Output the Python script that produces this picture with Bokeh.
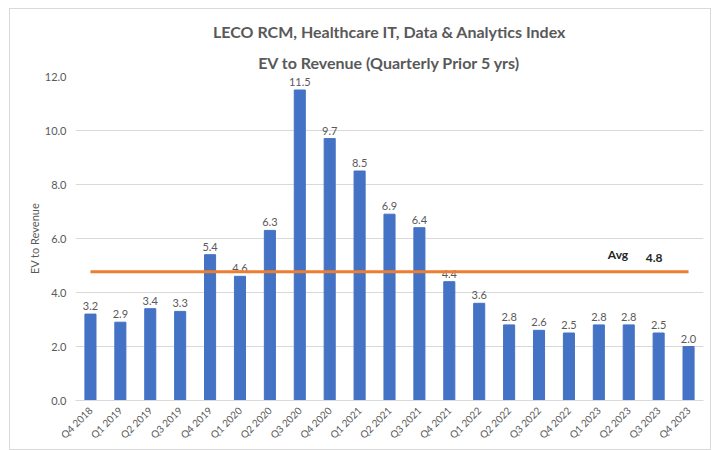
import math
from bokeh.plotting import figure
from bokeh.models import Title, FactorRange, Range1d, CustomJSTickFormatter, InlineStyleSheet
from bokeh.core.properties import value
from bokeh.embed import file_html
from bokeh.resources import INLINE

quarters = ["Q4 2018", "Q1 2019", "Q2 2019", "Q3 2019", "Q4 2019", "Q1 2020", "Q2 2020",
            "Q3 2020", "Q4 2020", "Q1 2021", "Q2 2021", "Q3 2021", "Q4 2021", "Q1 2022",
            "Q2 2022", "Q3 2022", "Q4 2022", "Q1 2023", "Q2 2023", "Q3 2023", "Q4 2023"]
ev_revenue = [3.2, 2.9, 3.4, 3.3, 5.4, 4.6, 6.3, 11.5, 9.7, 8.5, 6.9, 6.4, 4.4, 3.6,
              2.8, 2.6, 2.5, 2.8, 2.8, 2.5, 2.0]
avg_value = 4.77
avg_label = "4.8"
y_ticks = [0, 2, 4, 6, 8, 10, 12]
title_lines = ["LECO RCM, Healthcare IT, Data & Analytics Index",
               "EV to Revenue (Quarterly Prior 5 yrs)"]

FONT = "Lato"
GRAY = "#595959"

p = figure(x_range=FactorRange(*quarters, range_padding=0), y_range=Range1d(0, 12),
           width=700, height=440, output_backend="svg", toolbar_location=None,
           min_border_left=65, min_border_right=7, min_border_top=67, min_border_bottom=49)
p.margin = (9, 0, 0, 10)
p.stylesheets = [InlineStyleSheet(css=":host { outline: 1px solid #d9d9d9; }")]
p.outline_line_color = None
p.background_fill_color = "white"
p.border_fill_color = "white"

p.add_layout(Title(text=title_lines[1], align="center", offset=-27,
                   text_font=FONT, text_font_size="16px", text_font_style="bold",
                   text_color=GRAY), "above")
p.add_layout(Title(text=title_lines[0], align="center", offset=-27,
                   text_font=FONT, text_font_size="16px", text_font_style="bold",
                   text_color=GRAY, text_line_height=0.55), "above")

p.vbar(x=quarters, top=ev_revenue, width=0.37, fill_color="#4472C4", line_color="#4472C4")
p.text(x=quarters, y=ev_revenue, text=[f"{v:.1f}" for v in ev_revenue],
       text_align="center", text_baseline="bottom", y_offset=-4,
       text_font=value(FONT), text_font_size="11px", text_color=GRAY)

p.line(x=quarters, y=[avg_value] * len(quarters), line_color="#ED7D31", line_width=3)
p.text(x=[quarters[17]], y=[avg_value], text=["Avg"], x_offset=9, y_offset=-10,
       text_align="left", text_baseline="bottom", text_font=value(FONT),
       text_font_size="12px", text_font_style="bold", text_color="#262626")
p.text(x=[quarters[18]], y=[avg_value], text=[avg_label], x_offset=17, y_offset=-10,
       text_align="left", text_baseline="bottom", text_font=value(FONT),
       text_font_size="12px", text_font_style="bold", text_color="#262626")

p.ygrid.grid_line_color = "#d9d9d9"
p.xgrid.grid_line_color = None

p.yaxis.ticker = y_ticks
p.yaxis.formatter = CustomJSTickFormatter(code="return tick.toFixed(1);")
p.yaxis.axis_line_color = None
p.yaxis.major_tick_line_color = None
p.yaxis.minor_tick_line_color = None
p.yaxis.major_tick_out = 0
p.yaxis.major_tick_in = 0
p.yaxis.major_label_standoff = 9
p.yaxis.major_label_text_font = FONT
p.yaxis.major_label_text_font_size = "11px"
p.yaxis.major_label_text_color = GRAY
p.yaxis.axis_label = "EV to Revenue"
p.yaxis.axis_label_text_font = FONT
p.yaxis.axis_label_text_font_size = "11px"
p.yaxis.axis_label_text_font_style = "normal"
p.yaxis.axis_label_text_color = GRAY
p.yaxis.axis_label_standoff = 1

p.xaxis.axis_line_color = "#d9d9d9"
p.xaxis.major_tick_line_color = None
p.xaxis.minor_tick_line_color = None
p.xaxis.major_tick_out = 0
p.xaxis.major_tick_in = 0
p.xaxis.major_label_orientation = math.pi / 4
p.xaxis.major_label_text_font = FONT
p.xaxis.major_label_text_font_size = "10px"
p.xaxis.major_label_text_color = GRAY
p.xaxis.major_label_standoff = 8

open("out.html", "w").write(file_html(p, INLINE))
